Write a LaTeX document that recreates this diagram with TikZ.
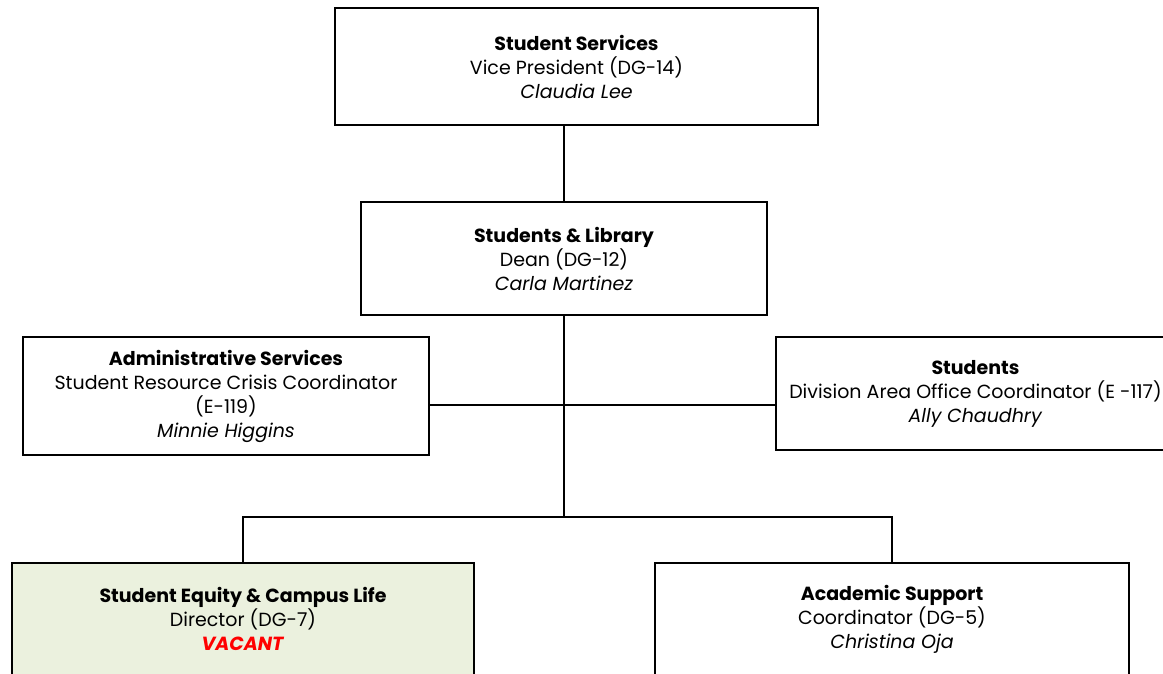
\documentclass[tikz,border=0pt]{standalone}
\usepackage{fontspec}
\setmainfont{Poppins}
\definecolor{equityfill}{HTML}{EBF1DE}
\definecolor{vacantred}{HTML}{FF0000}

\begin{document}
\begin{tikzpicture}[x=1pt, y=-1pt,
    unitbox/.style={rectangle, draw=black, line width=1.4pt, align=center, inner sep=0pt,
        font=\fontsize{19}{24}\selectfont},
    link/.style={line width=1.4pt}]
    \useasboundingbox (0,0) rectangle (1163,673);

    % Top of the chart
    \node[unitbox, minimum width=483pt, minimum height=117pt] (vp) at (576.5,66.5)
        {\textbf{Student Services}\\Vice President (DG-14)\\\textit{Claudia Lee}};
    \node[unitbox, minimum width=406pt, minimum height=113pt] (dean) at (564,258.5)
        {\textbf{Students \& Library}\\Dean (DG-12)\\\textit{Carla Martinez}};

    \draw[link] (dean.north) -- (dean.north |- vp.south);

    % Staff beside the dean
    \node[unitbox, minimum width=406pt, minimum height=118pt] (admin) at (226,396)
        {\textbf{Administrative Services}\\Student Resource Crisis Coordinator\\(E-119)\\\textit{Minnie Higgins}};
    \node[unitbox, minimum width=399pt, minimum height=113pt] (students) at (975.5,393.5)
        {\textbf{Students}\\Division Area Office Coordinator (E -117)\\\textit{Ally Chaudhry}};

    \coordinate (mid) at (564,405);
    \draw[link] (admin.east |- mid) -- (students.west |- mid);

    % Units below
    \node[unitbox, fill=equityfill, minimum width=462pt, minimum height=112pt] (equity) at (243,619)
        {\textbf{Student Equity \& Campus Life}\\Director (DG-7)\\\textcolor{vacantred}{\textbf{\textit{VACANT}}}};
    \node[unitbox, minimum width=474pt, minimum height=112pt] (acad) at (892,619)
        {\textbf{Academic Support}\\Coordinator (DG-5)\\\textit{Christina Oja}};

    \coordinate (bus) at (564,517);
    \draw[link] (dean.south) -- (bus);
    \draw[link] (equity.north) |- (bus) -| (acad.north);
\end{tikzpicture}
\end{document}
